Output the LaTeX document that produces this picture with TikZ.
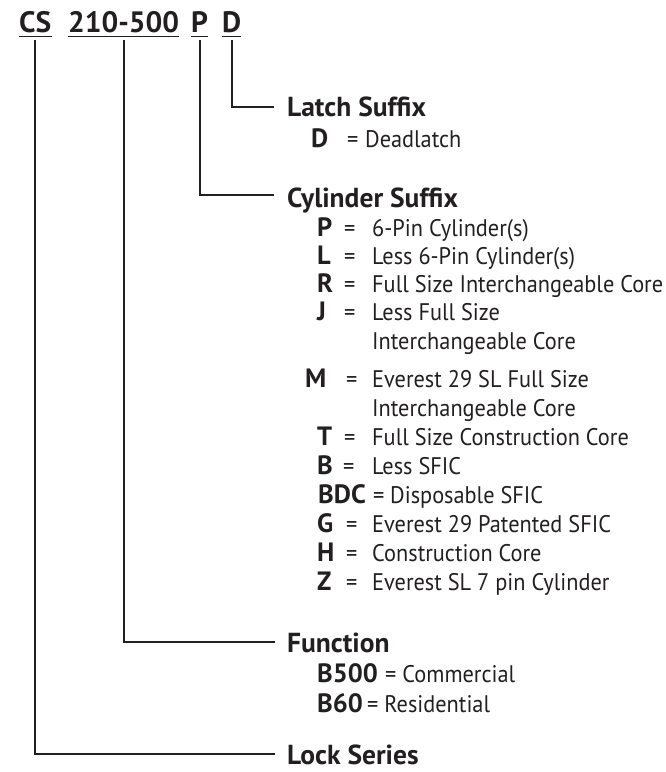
\documentclass[tikz,border=0pt]{standalone}
\usepackage{fontspec}
\setmainfont{PT Sans}
\newfontfamily\descfont{PT Sans}[FakeStretch=0.93]
\definecolor{ink}{HTML}{231F20}
\tikzset{
  conn/.style={draw=ink, line width=2pt},
  uline/.style={draw=ink, line width=1.8pt},
  ttl/.style={font=\bfseries\fontsize{29.5}{29.5}\selectfont, text=ink, inner sep=0pt, anchor=base west},
  lbl/.style={font=\bfseries\fontsize{27.5}{27.5}\selectfont, text=ink, inner sep=0pt, anchor=base west},
  code/.style={font=\bfseries\fontsize{26.5}{26.5}\selectfont, text=ink, inner sep=0pt, anchor=base west},
  desc/.style={font=\descfont\fontsize{24}{24}\selectfont, text=ink, inner sep=0pt, anchor=base west}
}
\begin{document}
\begin{tikzpicture}[x=1pt,y=1pt]
\useasboundingbox (0,0) rectangle (665,772);
% title
\node[ttl] (cs)  at (19,739)  {CS};
\node[ttl] (fn)  at (68,739)  {210-500};
\node[ttl] (cyl) at (191,739) {P};
\node[ttl] (lat) at (222,739) {D};
\foreach \n in {cs,fn,cyl,lat}
  \draw[uline] ([yshift=-3.5pt]\n.base west) -- ([yshift=-3.5pt]\n.base east);
\coordinate (csb)  at ([yshift=-7pt]cs.base);
\coordinate (fnb)  at ([yshift=-7pt]fn.base);
\coordinate (cylb) at ([yshift=-7pt]cyl.base);
\coordinate (latb) at ([yshift=-7pt]lat.base);
% labels
\node[lbl] (latch) at (287,655) {Latch Suffix};
\coordinate (latchend) at (274,665);
\node[lbl] (cyls) at (287,564) {Cylinder Suffix};
\coordinate (cylend) at (274,577);
\node[lbl] (func) at (287,119) {Function};
\coordinate (funcend) at (275,130);
\node[lbl] (lock) at (287,8) {Lock Series};
\coordinate (lockend) at (275,18);
% connectors
\draw[conn] (latb) |- (latchend);
\draw[conn] (cylb) |- (cylend);
\draw[conn] (fnb) |- (funcend);
\draw[conn] (csb) |- (lockend);
% latch suffix rows
\node[code] (dD) at (311,624) {D};
\node[desc] (dDe) at (347,624) {=};
\node[desc] (dDt) at (365,624) {Deadlatch};
% cylinder suffix rows
\node[code] (cP) at (317,535) {P};
\node[desc] (cPe) at (344,535) {=};
\node[desc] (cPt) at (372,535) {6-Pin Cylinder(s)};
\node[code] (cL) at (317,507) {L};
\node[desc] (cLe) at (344,507) {=};
\node[desc] (cLt) at (372,507) {Less 6-Pin Cylinder(s)};
\node[code] (cR) at (317,479) {R};
\node[desc] (cRe) at (344,479) {=};
\node[desc] (cRt) at (372,479) {Full Size Interchangeable Core};
\node[code] (cJ) at (317,451) {J};
\node[desc] (cJe) at (344,451) {=};
\node[desc] (cJt) at (372,451) {Less Full Size};
\node[desc] (cJt2) at (372,422) {Interchangeable Core};
\node[code] (cM) at (305,384) {M};
\node[desc] (cMe) at (346,384) {=};
\node[desc] (cMt) at (372,384) {Everest 29 SL Full Size};
\node[desc] (cMt2) at (372,355) {Interchangeable Core};
\node[code] (cT) at (317,326) {T};
\node[desc] (cTe) at (344,326) {=};
\node[desc] (cTt) at (372,326) {Full Size Construction Core};
\node[code] (cB) at (317,297) {B};
\node[desc] (cBe) at (343,297) {=};
\node[desc] (cBt) at (372,297) {Less SFIC};
\node[code] (cBDC) at (318,268) {BDC};
\node[desc] (cBDCe) at (373,268) {=};
\node[desc] (cBDCt) at (390,268) {Disposable SFIC};
\node[code] (cG) at (317,239) {G};
\node[desc] (cGe) at (346,239) {=};
\node[desc] (cGt) at (372,239) {Everest 29 Patented SFIC};
\node[code] (cH) at (317,210) {H};
\node[desc] (cHe) at (346,210) {=};
\node[desc] (cHt) at (372,210) {Construction Core};
\node[code] (cZ) at (317,181) {Z};
\node[desc] (cZe) at (346,181) {=};
\node[desc] (cZt) at (372,181) {Everest SL 7 pin Cylinder};
% function rows
\node[code] (fB500) at (317,89) {B500};
\node[desc] (fB500t) at (385,89) {= Commercial};
\node[code] (fB60) at (317,59) {B60};
\node[desc] (fB60t) at (367,59) {= Residential};
\end{tikzpicture}
\end{document}
